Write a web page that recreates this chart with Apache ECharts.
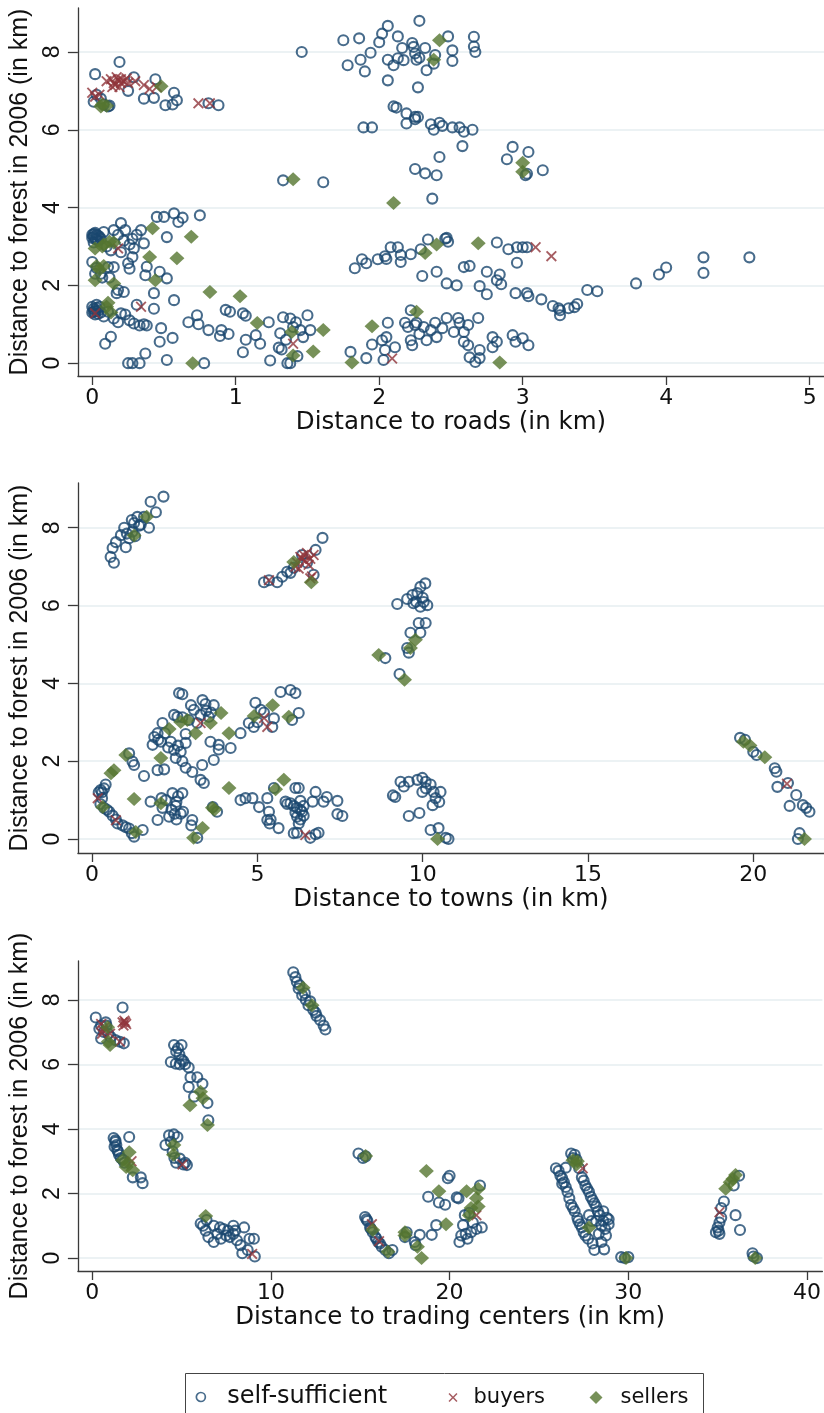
<!DOCTYPE html>
<html>
<head>
<meta charset="utf-8">
<script src="https://cdn.jsdelivr.net/npm/echarts@6/dist/echarts.min.js"></script>
<style>
html,body{margin:0;padding:0;background:#fff;}
#chart{width:824px;height:1413px;}
</style>
</head>
<body>
<div id="chart"></div>
<script>
// ---------------- DATA ----------------
const legendNames = ['self-sufficient', 'buyers', 'sellers'];
const yTicks = [0, 2, 4, 6, 8];
const roadsXTicks = [0, 1, 2, 3, 4, 5];
const townsXTicks = [0, 5, 10, 15, 20];
const tradeXTicks = [0, 10, 20, 30, 40];
const xTitles = ['Distance to roads (in km)', 'Distance to towns (in km)', 'Distance to trading centers (in km)'];
const yTitle = 'Distance to forest in 2006 (in km)';

// Panel 1: distance to roads
const roadsSelf = [
[0.02,7.43],[0.19,7.74],[0.29,7.35],[0.44,7.3],[0.25,7.0],[0.36,6.8],[0.43,6.82],[0.57,6.95],[0.51,6.63],[0.56,6.65],[0.59,6.76],[0.81,6.68],[0.88,6.63],[0.01,6.72],[0.06,6.8],[0.11,6.6],[0.03,6.9],[0.08,6.65],[0.12,6.62],
[1.33,4.7],[1.61,4.65],
[0.0,3.3],[0.01,3.25],[0.02,3.2],[0.03,3.3],[0.04,3.15],[0.01,3.1],[0.05,3.25],[0.02,3.35],[0.0,3.22],[0.03,3.18],[0.04,3.28],[0.06,3.2],[0.01,3.32],[0.08,3.37],[0.15,3.42],[0.2,3.6],[0.23,3.42],[0.28,3.2],[0.34,3.42],[0.36,3.08],[0.29,2.95],[0.28,2.73],[0.25,2.57],[0.26,2.43],[0.38,2.48],[0.37,2.26],[0.45,3.76],[0.5,3.76],[0.57,3.85],[0.63,3.74],[0.6,3.63],[0.75,3.8],[0.52,3.24],[0.47,2.35],[0.52,2.18],[0.11,2.47],[0.15,2.47],[0.02,2.3],[0.07,2.2],[0.12,2.2],[0.18,1.88],[0.22,1.83],[0.17,1.8],[0.43,1.8],[0.57,1.62],[0.1,3.0],[0.13,2.9],[0.2,2.85],[0.26,3.05],[0.31,3.3],[0.18,3.3],[0.22,3.15],[0.0,2.6],[0.03,2.45],[0.06,2.3],
[0.0,1.3],[0.01,1.4],[0.02,1.25],[0.03,1.5],[0.04,1.35],[0.05,1.45],[0.06,1.3],[0.08,1.2],[0.0,1.45],[0.02,1.35],[0.01,1.32],[0.03,1.42],[0.04,1.27],[0.11,1.32],[0.2,1.28],[0.23,1.25],[0.31,1.5],[0.29,1.02],[0.36,1.0],[0.38,0.97],[0.43,1.4],[0.48,0.9],[0.56,0.65],[0.47,0.55],[0.13,0.68],[0.09,0.5],[0.37,0.25],[0.25,0.0],[0.28,0.0],[0.33,0.0],[0.52,0.08],[0.78,0.0],[0.67,1.05],[0.73,1.23],[0.74,1.0],[0.81,0.85],[0.9,0.85],[0.93,1.37],[0.96,1.32],[0.89,0.7],[0.95,0.75],[1.05,1.28],[1.07,1.22],[1.07,0.6],[1.05,0.28],[1.14,0.72],[1.17,0.5],[1.23,1.05],[1.33,1.18],[1.31,0.77],[1.24,0.07],[1.36,0.0],[1.3,0.4],[1.32,0.35],[0.15,1.15],[0.18,1.05],[0.26,1.1],[0.33,0.97],
[1.4,0.93],[1.45,0.85],[1.5,1.23],[1.52,0.85],[1.47,0.67],[1.38,0.0],[1.43,0.18],[1.35,0.6],[1.38,1.15],[1.42,1.05],
[1.8,0.29],[1.91,0.13],[1.95,0.48],[2.03,0.08],[2.04,0.34],[2.02,0.59],[2.05,0.67],[2.11,0.41],[2.06,1.04],[2.18,1.04],[2.22,1.36],[2.2,0.93],[2.22,0.59],[2.23,0.46],[2.26,1.04],[2.31,0.93],[2.33,0.59],[2.36,0.85],[2.39,1.04],[2.4,0.67],[2.44,0.9],[2.47,1.16],[2.52,0.8],[2.55,1.16],[2.56,1.04],[2.59,0.8],[2.59,0.55],[2.62,0.98],[2.62,0.46],[2.69,1.16],[2.63,0.15],[2.67,0.03],[2.7,0.34],[2.7,0.13],[2.79,0.67],[2.82,0.55],[2.93,0.72],[2.95,0.55],[3.0,0.64],[3.04,0.46],[2.79,0.41],[2.25,0.98],[2.28,0.75],
[1.83,2.44],[1.88,2.67],[1.91,2.57],[1.99,2.67],[2.04,2.75],[2.05,2.68],[2.08,2.98],[2.13,2.98],[2.15,2.6],[2.15,2.78],[2.22,2.8],[2.29,2.93],[2.34,3.18],[2.46,3.2],[2.48,3.12],[2.47,3.22],[2.3,2.24],[2.4,2.35],[2.47,2.05],[2.54,2.0],[2.59,2.47],[2.63,2.5],[2.7,1.98],[2.75,1.77],[2.75,2.35],[2.82,2.13],[2.84,2.28],[2.85,2.03],[2.82,3.1],[2.9,2.93],[2.96,2.98],[3.0,2.98],[3.03,2.98],[2.96,2.58],[2.95,1.8],[3.03,1.8],[3.04,1.72],[3.13,1.64],[3.21,1.47],[3.25,1.41],[3.26,1.23],[3.32,1.41],
[3.26,1.36],[3.36,1.44],[3.38,1.52],[3.45,1.88],[3.52,1.85],[3.79,2.05],[3.95,2.28],[4.0,2.46],[4.26,2.72],[4.26,2.32],[4.58,2.72],
[2.1,6.6],[2.12,6.57],[2.19,6.42],[2.25,6.33],[2.27,6.33],[2.19,6.16],[2.25,6.27],[1.89,6.06],[1.95,6.06],[2.36,6.14],[2.38,6.0],[2.42,6.18],[2.44,6.1],[2.51,6.06],[2.56,6.06],[2.59,5.95],[2.65,6.0],[2.58,5.58],[2.42,5.3],[2.25,4.99],[2.32,4.88],[2.4,4.83],[2.37,4.23],[2.93,5.56],[3.04,5.43],[2.89,5.24],[3.02,4.83],[3.03,4.87],[3.14,4.96],
[1.46,8.0],[1.75,8.3],[1.86,8.35],[1.78,7.66],[1.87,7.8],[1.94,7.98],[1.9,7.5],[2.0,8.25],[2.02,8.47],[2.06,8.67],[2.13,8.4],[2.06,7.8],[2.1,7.66],[2.13,7.84],[2.17,7.79],[2.06,7.27],[2.16,8.1],[2.23,8.23],[2.24,8.13],[2.25,7.96],[2.26,7.8],[2.28,7.85],[2.32,8.1],[2.33,7.53],[2.27,7.09],[2.28,8.8],[2.39,7.92],[2.38,7.7],[2.48,8.4],[2.51,8.04],[2.51,7.77],[2.66,8.39],[2.66,8.14],[2.67,8.0]
];
const roadsBuy = [
[0.0,6.95],[0.02,6.85],[0.05,6.9],[0.1,7.25],[0.13,7.3],[0.15,7.2],[0.17,7.35],[0.18,7.28],[0.2,7.3],[0.22,7.25],[0.24,7.32],[0.19,7.1],[0.16,7.15],[0.25,7.2],[0.3,7.25],[0.36,7.15],[0.4,7.05],[0.45,7.1],[0.74,6.68],[0.82,6.68],[0.2,7.2],[0.14,7.1],
[0.18,2.95],[0.02,1.28],[0.34,1.45],[1.4,0.5],[3.09,2.98],[3.2,2.75],[2.09,0.12]
];
const roadsSell = [
[0.48,7.12],[0.06,6.6],[0.1,6.62],[0.07,6.65],[1.4,4.73],[0.42,3.47],[0.69,3.25],[0.4,2.73],[0.59,2.7],[0.44,2.13],[0.82,1.83],[1.03,1.72],[1.15,1.03],[1.39,0.8],[1.4,0.2],[0.7,0.0],[0.02,2.95],[0.08,3.05],[0.15,3.1],[0.12,3.12],[0.03,2.5],[0.08,2.5],[0.02,2.13],[0.15,2.05],[0.11,1.55],[0.13,1.3],[0.07,3.0],[0.05,2.4],[0.1,1.45],
[1.61,0.85],[1.54,0.3],[1.95,0.95],[1.81,0.02],[2.26,1.32],[2.84,0.02],[2.42,8.3],[2.38,7.8],[3.0,5.15],[3.0,4.92],[2.1,4.12],[2.32,2.83],[2.4,3.05],[2.69,3.08]
];

// Panel 2: distance to towns
const townsSelf = [
[0.66,7.1],[0.56,7.25],[0.62,7.48],[0.72,7.63],[0.87,7.81],[0.97,8.0],[1.02,7.5],[1.12,7.73],[1.22,7.9],[1.27,8.12],[1.37,8.28],[1.47,8.08],[1.57,8.28],[1.72,8.0],[1.77,8.67],[1.93,8.4],[2.16,8.8],[1.3,7.78],[1.42,8.05],[1.2,8.2],[1.05,7.85],
[5.2,6.6],[5.35,6.65],[5.6,6.6],[5.75,6.74],[5.9,6.87],[6.1,6.97],[6.0,6.84],[6.97,7.74],[6.76,7.43],[6.7,6.79],[6.35,7.3],[6.5,7.1],
[9.23,6.04],[9.53,6.17],[9.69,6.27],[9.84,6.32],[9.93,6.48],[10.08,6.57],[10.03,6.09],[10.14,6.01],[9.93,5.97],[9.72,6.06],[9.88,5.55],[10.09,5.55],[9.63,5.3],[9.93,5.3],[9.53,4.91],[9.58,4.79],[8.87,4.65],[9.3,4.24],[10.0,6.2],[9.8,6.1],
[2.63,3.75],[2.73,3.72],[2.99,3.44],[3.08,3.32],[3.34,3.57],[3.43,3.47],[3.68,3.44],[3.53,3.14],[3.28,3.19],[3.18,2.98],[2.93,3.06],[2.58,3.14],[2.48,3.19],[2.13,2.98],[1.88,2.62],[1.98,2.72],[1.83,2.42],[2.08,2.5],[2.38,2.5],[2.48,2.29],[2.68,2.24],[2.83,2.47],[2.53,2.08],[2.73,2.0],[2.83,1.83],[3.03,1.72],[3.28,1.52],[3.38,1.44],[3.33,1.9],[3.58,2.5],[3.83,2.42],[3.83,2.3],[3.68,2.03],[4.19,2.34],[4.49,2.72],[1.98,1.77],[2.18,1.79],[2.2,2.72],[2.83,2.7],[2.73,3.13],[3.45,3.3],[3.6,3.25],[2.0,2.55],[2.3,2.35],[2.6,2.4],
[4.94,3.5],[4.74,2.98],[4.89,2.88],[5.1,3.32],[5.2,3.25],[5.45,2.88],[5.5,3.1],[5.7,3.78],[6.0,3.83],[6.15,3.75],[6.05,3.06],[6.25,3.24],[5.0,3.0],
[4.49,1.0],[4.64,1.05],[4.85,1.05],[5.05,0.82],[5.3,1.05],[5.35,0.7],[5.3,0.49],[5.4,0.5],[5.37,0.4],[5.64,0.28],[5.5,1.31],[5.85,0.96],[5.9,0.9],[6.15,1.31],[6.2,0.8],[6.15,0.68],[6.1,0.15],[6.25,0.4],
[0.26,1.26],[0.2,1.2],[0.3,1.05],[0.25,0.9],[0.36,0.8],[0.52,0.7],[0.62,0.6],[0.72,0.5],[0.77,0.4],[0.92,0.35],[1.02,0.3],[1.12,0.27],[1.27,0.06],[1.53,0.23],[0.41,1.4],[0.36,1.3],[1.2,0.15],[0.3,1.2],[0.45,0.75],
[1.12,2.2],[1.22,1.99],[1.27,1.9],[1.57,1.62],[1.77,0.96],[1.98,0.49],[2.13,0.8],[2.23,1.0],[2.33,0.57],[2.43,1.18],[2.53,0.85],[2.55,0.5],[2.73,1.18],[2.68,0.65],[2.75,0.7],[2.55,0.95],[2.5,0.65],[3.03,0.49],[3.0,0.35],[3.18,0.03],[3.78,0.7],[3.65,0.82],[2.1,1.05],[2.4,0.75],[2.6,1.1],
[6.25,1.31],[6.0,0.92],[6.1,0.85],[6.2,0.57],[6.3,0.98],[6.35,0.7],[6.3,0.5],[6.4,0.85],[6.67,0.96],[6.76,1.21],[7.0,0.96],[7.1,1.08],[7.42,0.98],[7.42,0.64],[7.57,0.59],[6.2,0.16],[6.6,0.03],[6.85,0.16],[6.76,0.12],[6.3,0.75],[6.4,0.6],
[9.17,1.08],[9.33,1.47],[9.43,1.35],[9.58,1.47],[9.84,1.52],[9.99,1.57],[10.09,1.47],[10.24,1.4],[10.33,1.21],[10.54,1.21],[10.39,1.05],[10.5,0.95],[10.3,0.87],[9.99,1.21],[9.58,0.59],[9.9,0.67],[10.24,0.23],[10.48,0.28],[10.7,0.03],[10.78,0.0],[9.1,1.12],[10.1,1.3],
[19.6,2.6],[19.75,2.55],[20.0,2.24],[20.1,2.16],[20.65,1.82],[20.7,1.73],[20.73,1.34],[21.05,1.44],[21.1,0.85],[21.3,1.13],[21.5,0.87],[21.6,0.8],[21.7,0.7],[21.4,0.15],[21.35,0.0]
];
const townsBuy = [
[5.35,6.65],[6.3,7.25],[6.2,7.1],[6.4,7.3],[6.5,7.35],[6.6,7.2],[6.45,7.15],[6.15,7.0],[6.25,6.95],[6.55,7.05],[6.6,6.7],[6.65,6.75],[6.35,7.2],[6.7,7.3],
[3.28,2.98],[5.2,3.11],[5.3,2.88],[0.72,0.48],[0.17,1.05],[6.45,0.1],[21.02,1.42]
];
const townsSell = [
[1.27,7.8],[1.65,8.28],[6.1,7.12],[6.63,6.6],[8.67,4.73],[9.78,5.12],[9.63,4.91],[9.45,4.09],[2.33,2.83],[2.68,3.01],[2.88,3.06],[3.13,2.72],[3.58,2.98],[3.9,3.24],[4.14,2.72],[2.08,2.08],[1.02,2.16],[0.66,1.77],[0.57,1.69],[1.27,1.03],[0.32,0.82],[1.32,0.18],[2.08,0.92],[3.07,0.03],[3.34,0.28],[3.64,0.8],[3.7,0.75],[4.14,1.31],[4.9,3.16],[5.46,3.44],[5.95,3.14],[5.55,1.28],[5.8,1.52],[10.45,0.0],[19.7,2.5],[19.9,2.4],[20.35,2.1],[21.55,0.0]
];

// Panel 3: distance to trading centers
const tradeSelf = [
[0.2,7.45],[0.76,7.3],[0.5,7.2],[0.4,7.1],[0.8,7.2],[0.5,6.8],[1.03,6.85],[1.3,6.75],[1.55,6.7],[1.77,6.65],[1.7,7.76],[0.9,6.95],[0.65,7.0],
[4.58,6.6],[5.0,6.6],[4.7,6.4],[4.88,6.3],[5.0,6.15],[4.4,6.07],[4.68,6.02],[5.2,6.0],[5.4,5.9],[5.5,5.6],[5.88,5.6],[5.4,5.3],[6.17,5.4],[5.7,5.0],[6.45,4.8],[6.5,4.27],[4.8,6.5],[5.1,6.1],[4.9,6.0],
[1.2,3.72],[1.3,3.6],[1.25,3.45],[1.4,3.35],[1.5,3.2],[1.7,3.05],[2.07,3.75],[2.27,2.5],[2.72,2.5],[2.82,2.32],[1.8,2.95],[1.35,3.5],[1.45,3.3],[1.6,3.1],[1.3,3.65],
[4.1,3.5],[4.3,3.8],[4.57,3.83],[4.77,3.75],[4.5,3.3],[4.7,2.95],[4.9,3.08],[5.2,2.95],[5.3,2.88],[5.1,2.9],[4.4,3.6],[4.6,3.1],
[6.07,1.07],[6.4,1.18],[6.35,0.85],[6.5,0.65],[6.8,0.5],[7.0,0.75],[6.8,1.0],[7.15,0.95],[7.35,0.9],[7.6,0.85],[7.9,1.0],[8.0,0.85],[7.7,0.65],[8.1,0.55],[8.5,0.95],[8.3,0.4],[8.4,0.15],[8.8,0.6],[9.05,0.6],[8.7,0.25],[9.1,0.05],[7.9,0.75],[7.5,0.7],[6.2,1.0],[7.2,0.6],
[11.25,8.85],[11.37,8.7],[11.45,8.55],[11.55,8.35],[11.75,8.14],[11.95,8.0],[12.1,7.83],[12.37,7.68],[12.55,7.5],[12.75,7.37],[12.95,7.2],[13.05,7.08],[12.2,7.95],[11.6,8.45],[11.9,8.2],[12.5,7.6],
[14.9,3.24],[15.15,3.1],[15.3,3.15],
[15.27,1.27],[15.4,1.15],[15.55,0.95],[15.7,0.8],[15.85,0.65],[16.0,0.5],[16.2,0.35],[16.4,0.25],[16.6,0.15],[16.8,0.25],[15.35,1.2],[15.6,0.9],[15.9,0.6],[16.1,0.45],
[17.5,0.65],[17.6,0.8],[18.05,0.5],[18.33,0.72],[19.0,0.72],[19.25,1.02],[18.1,0.4],
[18.8,1.9],[19.4,1.72],[19.75,1.65],[19.9,2.47],[20.0,2.55],
[20.4,1.88],[20.5,1.85],[20.85,1.33],[20.75,1.02],[20.65,0.7],[20.55,0.5],[21.0,0.6],[21.2,0.8],[21.5,0.9],[21.8,0.95],[21.7,2.25],[21.1,1.4],[21.3,1.1],[20.9,0.75],
[25.95,2.78],[26.1,2.7],[26.3,2.47],[26.4,2.35],[26.6,2.05],[26.7,1.85],[26.8,1.65],[27.0,1.45],[27.15,1.25],[27.3,1.05],[27.5,0.8],[27.75,0.6],[28.0,0.45],[28.1,0.25],[28.65,0.27],[28.5,0.5],[26.8,3.24],[27.0,3.2],[27.25,2.78],[27.4,2.5],[27.6,2.25],[27.8,2.05],[28.0,1.8],[28.2,1.6],[28.4,1.33],[28.6,1.45],[28.8,1.25],[28.9,1.05],[28.7,0.9],[28.5,1.0],[27.8,1.33],[27.95,1.15],[28.35,0.75],[26.3,2.3],[26.5,2.8],[28.2,1.15],[26.9,3.1],[27.1,3.05],[26.5,2.2],[26.9,1.55],[27.2,1.15],[27.6,0.7],[27.5,2.4],[27.7,2.15],[27.9,1.9],[28.1,1.7],[28.3,1.45],[28.6,1.15],[28.75,0.7],[27.4,0.95],[26.2,2.55],[28.9,1.2],
[29.6,0.03],[29.8,0.0],[30.0,0.03],
[34.9,0.8],[35.1,0.75],[35.0,0.95],[35.1,1.1],[35.2,1.25],[35.35,1.75],[35.2,1.55],[36.0,1.33],[36.25,0.87],[35.9,2.25],[36.2,2.55],[35.05,0.85],
[36.95,0.15],[37.2,0.0],[37.0,0.05]
];
const tradeBuy = [
[0.5,7.25],[0.6,7.05],[0.55,6.95],[1.0,6.95],[1.55,6.7],[1.7,7.3],[1.8,7.35],[1.9,7.25],[1.75,7.2],[1.85,7.3],[0.7,7.15],
[2.2,3.0],[5.05,2.9],[8.95,0.13],[15.65,1.05],[16.05,0.52],[21.5,1.33],[27.45,2.78],[35.1,1.42]
];
const tradeSell = [
[0.86,7.15],[1.0,6.6],[0.9,6.7],[5.47,4.73],[6.06,5.15],[6.2,4.95],[6.45,4.12],[2.07,3.28],[1.7,3.03],[2.0,2.95],[2.27,2.72],[1.9,2.82],[4.57,3.5],[4.55,3.2],[6.35,1.3],[11.8,8.37],[12.3,7.83],[15.3,3.16],[15.7,0.87],[16.55,0.2],[17.5,0.8],[17.5,0.7],[18.2,0.35],[18.43,0.0],[19.8,1.05],[18.7,2.7],[19.4,2.07],[20.95,2.07],[21.6,2.15],[21.5,1.85],[21.6,1.6],[21.1,1.33],[21.2,1.55],[26.9,3.03],[27.15,3.0],[27.1,2.9],[27.8,0.95],[29.87,0.0],[35.45,2.15],[35.7,2.35],[36.0,2.57],[35.85,2.45],[37.1,0.0]
];

// ---------------- CHART ----------------
const NAVY = '#1a476f', MAROON = '#90353b', GREEN = '#55752f';
const TXT = '#111111';
const XPATH = 'path://M0,1.2L1.2,0L5,3.8L8.8,0L10,1.2L6.2,5L10,8.8L8.8,10L5,6.2L1.2,10L0,8.8L3.8,5Z';
const HFONT = 'DejaVu Sans';
const VFONT = 'Liberation Sans';

const panels = [
  {self: roadsSelf, buy: roadsBuy, sell: roadsSell, xt: roadsXTicks, grid: {top: 8, height: 368}, x: [-0.1, 5.1], y: [-0.33, 9.13]},
  {self: townsSelf, buy: townsBuy, sell: townsSell, xt: townsXTicks, grid: {top: 483, height: 370}, x: [-0.43, 22.14], y: [-0.36, 9.15]},
  {self: tradeSelf, buy: tradeBuy, sell: tradeSell, xt: tradeXTicks, grid: {top: 961, height: 310}, x: [-0.8, 40.86], y: [-0.4, 9.2]}
];

const grids = [], xAxes = [], yAxes = [], series = [];
const axisLine = {show: true, onZero: false, lineStyle: {color: '#3a3a3a', width: 1.3}};
const axisTickStyle = {lineStyle: {color: '#3a3a3a', width: 1.3}};

panels.forEach((p, i) => {
  grids.push({left: 77, width: 747, top: p.grid.top, height: p.grid.height, containLabel: false});
  xAxes.push({
    type: 'value', gridIndex: i, min: p.x[0], max: p.x[1],
    axisLine: axisLine,
    axisTick: Object.assign({show: true, inside: false, length: 9, customValues: p.xt}, axisTickStyle),
    axisLabel: {show: true, customValues: p.xt, margin: 11, color: TXT, fontFamily: HFONT, fontSize: 22},
    splitLine: {show: false},
    name: xTitles[i], nameLocation: 'middle', nameGap: 34,
    nameTextStyle: {color: TXT, fontFamily: HFONT, fontSize: 24.5}
  });
  yAxes.push({
    type: 'value', gridIndex: i, min: p.y[0], max: p.y[1],
    axisLine: axisLine,
    axisTick: Object.assign({show: true, inside: false, length: 10, customValues: yTicks}, axisTickStyle),
    axisLabel: {show: true, customValues: yTicks, rotate: 90, margin: 14, color: TXT, fontFamily: VFONT, fontSize: 23},
    splitLine: {show: true, lineStyle: {color: '#e6eef1', width: 1.5}},
    name: yTitle, nameLocation: 'middle', nameGap: 41,
    nameTextStyle: {color: TXT, fontFamily: VFONT, fontSize: 25}
  });
  series.push({
    type: 'scatter', name: legendNames[0], xAxisIndex: i, yAxisIndex: i, data: p.self,
    symbol: 'circle', symbolSize: 10,
    itemStyle: {color: 'rgba(255,255,255,0)', borderColor: NAVY, borderWidth: 2.1},
    z: 2, silent: true
  });
  series.push({
    type: 'scatter', name: legendNames[1], xAxisIndex: i, yAxisIndex: i, data: p.buy,
    symbol: XPATH, symbolSize: 11, symbolKeepAspect: true,
    itemStyle: {color: MAROON},
    z: 3, silent: true
  });
  series.push({
    type: 'scatter', name: legendNames[2], xAxisIndex: i, yAxisIndex: i, data: p.sell,
    symbol: 'diamond', symbolSize: [15, 14],
    itemStyle: {color: GREEN},
    z: 4, silent: true
  });
});

function legendItem(name, left, top, size, fontSize, pad, extraItemStyle) {
  const o = {
    data: [name], left: left, top: top, padding: 0, itemGap: 0, selectedMode: false,
    itemWidth: size, itemHeight: size,
    formatter: '{t|{name}}',
    textStyle: {rich: {t: {color: TXT, fontFamily: HFONT, fontSize: fontSize, padding: [0, 0, 0, pad]}}}
  };
  if (extraItemStyle) o.itemStyle = extraItemStyle;
  return o;
}
const legends = [
  legendItem(legendNames[0], 195.5, 1385, 9, 24, 17, {color: 'rgba(255,255,255,0)', borderColor: NAVY, borderWidth: 1.7}),
  legendItem(legendNames[1], 448.5, 1387, 9, 21, 11),
  legendItem(legendNames[2], 589.5, 1387, 13, 21, 13)
];

const chart = echarts.init(document.getElementById('chart'), null, {renderer: 'canvas'});
chart.setOption({
  backgroundColor: '#ffffff',
  animation: false,
  grid: grids,
  xAxis: xAxes,
  yAxis: yAxes,
  legend: legends,
  series: series,
  graphic: [{
    type: 'rect', silent: true, z: 0,
    shape: {x: 185.5, y: 1373.5, width: 518, height: 60},
    style: {fill: 'none', stroke: '#444444', lineWidth: 1}
  }]
});
</script>
</body>
</html>
